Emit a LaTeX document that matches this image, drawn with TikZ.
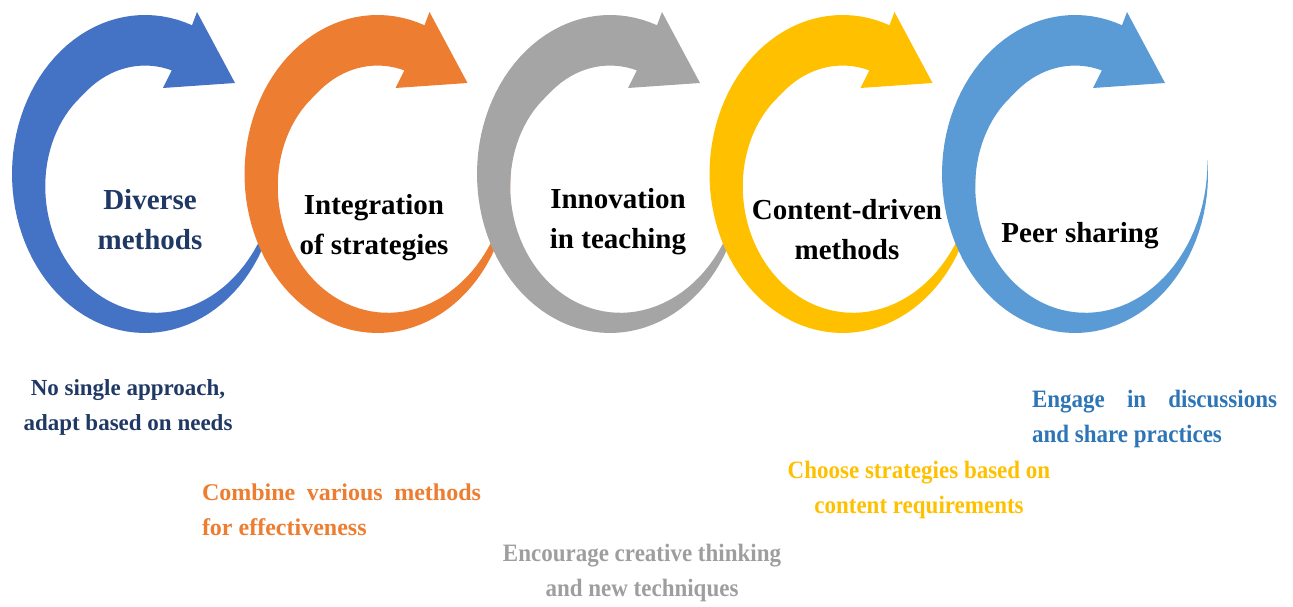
\documentclass[tikz,border=0pt]{standalone}
\usepackage{fontspec}
\setmainfont{Liberation Serif}
\newfontfamily\narrowserif[FakeStretch=0.92]{Liberation Serif}
\definecolor{arrowblue}{HTML}{4472C4}
\definecolor{arroworange}{HTML}{ED7D31}
\definecolor{arrowgray}{HTML}{A5A5A5}
\definecolor{arrowgold}{HTML}{FFC000}
\definecolor{arrowsky}{HTML}{5B9BD5}
\definecolor{textnavy}{HTML}{1F3864}
\definecolor{textorange}{HTML}{ED7D31}
\definecolor{textgray}{HTML}{9E9E9E}
\definecolor{textgold}{HTML}{FFC000}
\definecolor{textsky}{HTML}{2E75B6}

\begin{document}
\begin{tikzpicture}[x=1pt,y=1pt,
  title/.style={font=\bfseries\fontsize{29}{40}\selectfont,align=center,inner sep=0pt},
  note/.style={font=\bfseries\fontsize{23}{35}\selectfont,inner sep=0pt},
  slimnote/.style={font=\narrowserif\bfseries\fontsize{25}{35}\selectfont,inner sep=0pt}]
\useasboundingbox (0,0) rectangle (1293,607);
\fill [arrowblue,shift={(145,433)}] plot [domain=5:-290.7,samples=90] ({133*cos(\x)},{159*sin(\x)}) -- (52,162) -- (90,91) -- (18,86) -- (27,104) -- plot [domain=-287.2:5,samples=90] ({133*(1-min(0.00138*(5-\x),0.318))*cos(\x)},{159*(1-min(0.00138*(5-\x),0.318))*sin(\x)}) -- cycle;
\fill [arroworange,shift={(377.5,433)}] plot [domain=5:-290.7,samples=90] ({133*cos(\x)},{159*sin(\x)}) -- (52,162) -- (90,91) -- (18,86) -- (27,104) -- plot [domain=-287.2:5,samples=90] ({133*(1-min(0.00138*(5-\x),0.318))*cos(\x)},{159*(1-min(0.00138*(5-\x),0.318))*sin(\x)}) -- cycle;
\fill [arrowgray,shift={(610,433)}] plot [domain=5:-290.7,samples=90] ({133*cos(\x)},{159*sin(\x)}) -- (52,162) -- (90,91) -- (18,86) -- (27,104) -- plot [domain=-287.2:5,samples=90] ({133*(1-min(0.00138*(5-\x),0.318))*cos(\x)},{159*(1-min(0.00138*(5-\x),0.318))*sin(\x)}) -- cycle;
\fill [arrowgold,shift={(842.5,433)}] plot [domain=5:-290.7,samples=90] ({133*cos(\x)},{159*sin(\x)}) -- (52,162) -- (90,91) -- (18,86) -- (27,104) -- plot [domain=-287.2:5,samples=90] ({133*(1-min(0.00138*(5-\x),0.318))*cos(\x)},{159*(1-min(0.00138*(5-\x),0.318))*sin(\x)}) -- cycle;
\fill [arrowsky,shift={(1075,433)}] plot [domain=5:-290.7,samples=90] ({133*cos(\x)},{159*sin(\x)}) -- (52,162) -- (90,91) -- (18,86) -- (27,104) -- plot [domain=-287.2:5,samples=90] ({133*(1-min(0.00138*(5-\x),0.318))*cos(\x)},{159*(1-min(0.00138*(5-\x),0.318))*sin(\x)}) -- cycle;
\node [title,text=textnavy] (diverse) at (150,387) {Diverse\\methods};
\node [title] (integration) at (374,379) {Integration\\of strategies};
\node [title] (innovation) at (618,385) {Innovation\\in teaching};
\node [title] (content) at (847,377) {Content-driven\\methods};
\node [title] (peer) at (1080,371) {Peer sharing};
\node [note,text=textnavy,align=center] (needs) at (128,200) {No single approach,\\adapt based on needs};
\node [note,font=\bfseries\fontsize{24}{35}\selectfont,text=textorange,text width=279pt,align=justify] (combine) at (341.5,97) {Combine various methods for effectiveness};
\node [slimnote,text=textgray,align=center] (creative) at (642,34) {Encourage creative thinking\\and new techniques};
\node [slimnote,text=textgold,align=center] (choose) at (919,117) {Choose strategies based on\\content requirements};
\node [slimnote,text=textsky,text width=245pt,align=justify] (engage) at (1154.5,188) {Engage in discussions and share practices};
\end{tikzpicture}
\end{document}
